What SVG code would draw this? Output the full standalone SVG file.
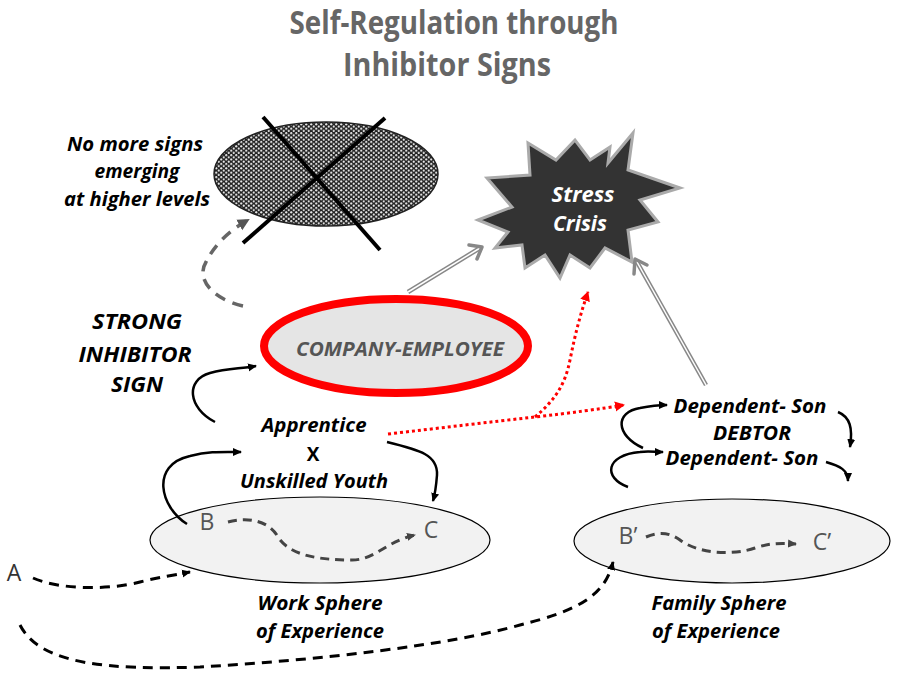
<svg xmlns="http://www.w3.org/2000/svg" width="907" height="682" viewBox="0 0 907 682">
<style>
text{font-family:"Open Sans","Liberation Sans",sans-serif}
.t{font-weight:bold;font-style:italic;fill:#000;text-anchor:middle}
.title{font-weight:bold;fill:#666;font-size:32px;text-anchor:middle}
.lbl{fill:#555;font-size:23px;text-anchor:middle}
.blk{fill:none;stroke:#000;stroke-width:2.5}
.dash{fill:none;stroke:#000;stroke-width:3;stroke-dasharray:10 7}
.gdash{fill:none;stroke:#444;stroke-width:3;stroke-dasharray:9 6}
.red{fill:none;stroke:#f00;stroke-width:3;stroke-dasharray:3 3}
.dbl1{fill:none;stroke:#888;stroke-width:4.5}
.dbl2{fill:none;stroke:#fff;stroke-width:1.5}
.chev{fill:none;stroke:#888;stroke-width:3.5;stroke-linecap:round;stroke-linejoin:round}
</style>
<defs>
<pattern id="dots" width="5" height="4.4" patternUnits="userSpaceOnUse">
<rect width="5" height="4.4" fill="#222"/>
<circle cx="1.25" cy="1.1" r="1.1" fill="#e8e8e8"/>
<circle cx="3.75" cy="3.3" r="1.1" fill="#e8e8e8"/>
</pattern>
<marker id="ab" markerWidth="10" markerHeight="10" refX="8" refY="5" orient="auto" markerUnits="userSpaceOnUse"><path d="M0,1 L9,5 L0,9 Z" fill="#000"/></marker>
<marker id="ag" markerWidth="14" markerHeight="14" refX="10" refY="7" orient="auto" markerUnits="userSpaceOnUse"><path d="M0,1 L12,7 L0,13 Z" fill="#555"/></marker>
<marker id="ad" markerWidth="10" markerHeight="10" refX="8" refY="5" orient="auto" markerUnits="userSpaceOnUse"><path d="M0,1 L9,5 L0,9 Z" fill="#444"/></marker>
<marker id="ar" markerWidth="12" markerHeight="12" refX="9" refY="6" orient="auto" markerUnits="userSpaceOnUse"><path d="M0,1 L10,6 L0,11 Z" fill="#f00"/></marker>
</defs>
<rect width="907" height="682" fill="#fff"/>

<g id="title">
<text class="title" x="454" y="34" textLength="329" lengthAdjust="spacingAndGlyphs">Self-Regulation through</text>
<text class="title" x="447" y="76" textLength="208" lengthAdjust="spacingAndGlyphs">Inhibitor Signs</text>
</g>

<g id="higher-levels">
<ellipse cx="326" cy="174" rx="112" ry="52" fill="url(#dots)" stroke="#222" stroke-width="1.5"/>
<line x1="263" y1="117" x2="380" y2="250" stroke="#000" stroke-width="4"/>
<line x1="385" y1="118" x2="243" y2="243" stroke="#000" stroke-width="4"/>
</g>
<g id="no-more-signs">
<text class="t" font-size="20" x="135" y="151" textLength="136" lengthAdjust="spacingAndGlyphs">No more signs</text>
<text class="t" font-size="20" x="137" y="178" textLength="85" lengthAdjust="spacingAndGlyphs">emerging</text>
<text class="t" font-size="20" x="137" y="206" textLength="146" lengthAdjust="spacingAndGlyphs">at higher levels</text>
</g>

<g id="stress-crisis">
<path d="M478,220 L512,207 L487,178 L530,175 L528,143 L556,160 L575,140 L590,160 L610,147 L608,163 L633,133 L628,170 L680,188 L640,200 L658,222 L628,230 L632,262 L605,248 L590,268 L570,255 L560,278 L545,255 L525,268 L522,245 L495,248 L508,232 Z" fill="#333" stroke="#aaa" stroke-width="3" stroke-linejoin="miter"/>
<text font-size="22" x="583" y="202" textLength="63" lengthAdjust="spacingAndGlyphs" style="font-weight:bold;font-style:italic;fill:#fff;text-anchor:middle">Stress</text>
<text font-size="22" x="580" y="231" textLength="54" lengthAdjust="spacingAndGlyphs" style="font-weight:bold;font-style:italic;fill:#fff;text-anchor:middle">Crisis</text>
</g>

<g id="strong-inhibitor">
<text class="t" font-size="21" x="137" y="329" textLength="90" lengthAdjust="spacingAndGlyphs">STRONG</text>
<text class="t" font-size="21" x="135" y="362" textLength="113" lengthAdjust="spacingAndGlyphs">INHIBITOR</text>
<text class="t" font-size="21" x="137" y="392" textLength="52" lengthAdjust="spacingAndGlyphs">SIGN</text>
</g>

<g id="company-employee">
<ellipse cx="396" cy="346" rx="132" ry="47" fill="#e5e5e5" stroke="#f00" stroke-width="8"/>
<text font-size="19" x="400" y="356" textLength="208" lengthAdjust="spacingAndGlyphs" style="font-weight:bold;font-style:italic;fill:#555;text-anchor:middle">COMPANY-EMPLOYEE</text>
</g>

<g id="apprentice">
<text class="t" font-size="19" x="314" y="432" textLength="105" lengthAdjust="spacingAndGlyphs">Apprentice</text>
<text class="t" font-size="19" x="313" y="461" style="font-style:normal">X</text>
<text class="t" font-size="19" x="314" y="488" textLength="148" lengthAdjust="spacingAndGlyphs">Unskilled Youth</text>
</g>

<g id="dependent-son">
<text class="t" font-size="19" x="750" y="413" textLength="153" lengthAdjust="spacingAndGlyphs">Dependent- Son</text>
<text class="t" font-size="19" x="752" y="440" textLength="78" lengthAdjust="spacingAndGlyphs">DEBTOR</text>
<text class="t" font-size="19" x="742" y="465" textLength="153" lengthAdjust="spacingAndGlyphs">Dependent- Son</text>
</g>

<g id="work-sphere">
<ellipse cx="320" cy="540" rx="170" ry="43" fill="#f2f2f2" stroke="#000" stroke-width="1.2"/>
<text class="lbl" x="207" y="530">B</text>
<text class="lbl" x="431" y="538">C</text>
<text class="t" font-size="19" x="320" y="610" textLength="125" lengthAdjust="spacingAndGlyphs">Work Sphere</text>
<text class="t" font-size="19" x="320" y="638" textLength="128" lengthAdjust="spacingAndGlyphs">of Experience</text>
</g>

<g id="family-sphere">
<ellipse cx="732" cy="541" rx="158" ry="42" fill="#f2f2f2" stroke="#000" stroke-width="1.2"/>
<text class="lbl" x="628" y="544">B’</text>
<text class="lbl" x="822" y="550">C’</text>
<text class="t" font-size="19" x="719" y="610" textLength="135" lengthAdjust="spacingAndGlyphs">Family Sphere</text>
<text class="t" font-size="19" x="716" y="638" textLength="128" lengthAdjust="spacingAndGlyphs">of Experience</text>
</g>

<g id="a-node">
<text class="lbl" x="14" y="581" style="fill:#333">A</text>
</g>

<g id="connectors">
<path d="M243,306 C 215,300 195,280 206,262 C 213,248 225,233 248,220" fill="none" stroke="#666" stroke-width="3.5" stroke-dasharray="11 8" marker-end="url(#ag)"/>
<path d="M215,422 C 188,408 185,380 210,373 C 228,368 240,369 256,366" class="blk" marker-end="url(#ab)"/>
<path d="M187,524 C 160,507 150,465 190,456 C 210,451 222,452 241,452" class="blk" marker-end="url(#ab)"/>
<path d="M387,442 C 420,450 438,455 437,475 C 436,488 435,494 433,501" class="blk" marker-end="url(#ab)"/>
<path d="M643,448 C 615,435 615,412 640,408 C 650,406 658,405 667,405" class="blk" marker-end="url(#ab)"/>
<path d="M838,412 C 850,417 853,428 850,447" class="blk" marker-end="url(#ab)"/>
<path d="M628,487 C 603,478 605,455 640,452 C 648,451 655,452 663,452" class="blk" marker-end="url(#ab)"/>
<path d="M826,462 C 840,466 848,470 848,481" class="blk" marker-end="url(#ab)"/>
<path d="M228,522 C 250,516 270,522 278,537 C 290,556 320,560 352,560 C 375,560 385,542 415,535" class="gdash" marker-end="url(#ad)"/>
<path d="M646,537 C 660,531 670,533 680,540 C 700,555 735,555 755,548 C 770,543 780,543 796,544" class="gdash" stroke-width="2.5" marker-end="url(#ad)"/>
<path d="M33,578 C 60,590 110,590 140,582 C 160,577 175,575 190,572" class="dash" marker-end="url(#ab)"/>
<path d="M20,625 C 40,665 110,670 200,667 C 320,660 450,645 520,625 C 580,610 605,595 613,562" class="dash" marker-end="url(#ab)"/>
<path d="M388,434 C 440,428 490,422 535,417 C 570,413 600,409 624,405" class="red" marker-end="url(#ar)"/>
<path d="M535,417 C 555,400 565,385 570,360 C 575,335 580,315 588,292" class="red" marker-end="url(#ar)"/>
<path d="M408,292 L480,248" class="dbl1"/>
<path d="M408,292 L480,248" class="dbl2"/>
<path d="M469,245 L482,247 L477,259" class="chev"/>
<path d="M706,385 L637,262" class="dbl1"/>
<path d="M706,385 L637,262" class="dbl2"/>
<path d="M634,274 L635,259 L647,265" class="chev"/>
</g>
</svg>
